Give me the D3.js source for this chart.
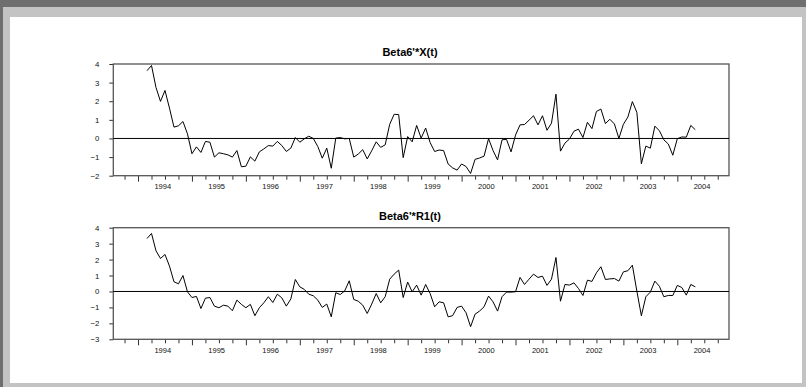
<!DOCTYPE html>
<html>
<head>
<meta charset="utf-8">
<script src="https://cdn.jsdelivr.net/npm/d3@7"></script>
<style>
html,body{margin:0;padding:0;background:#fff;}
svg{display:block;}
text{font-family:"Liberation Sans",Arial,sans-serif;}
</style>
</head>
<body>
<svg id="chart" width="806" height="387"></svg>
<script>
// ---- data ----
// monthly observations, first one is 1994 March (month index 2, counted from Jan 1994 = 0)
const firstMonthIndex = 2;
const titles = ["Beta6'*X(t)", "Beta6'*R1(t)"];
const seriesX = [
 3.64,3.92,2.74,1.99,2.58,1.63,0.61,0.68,0.91,0.25,
 -0.82,-0.45,-0.75,-0.16,-0.20,-1.00,-0.77,-0.82,-0.88,-1.00,
 -0.65,-1.52,-1.49,-0.99,-1.22,-0.72,-0.56,-0.38,-0.41,-0.16,
 -0.38,-0.70,-0.52,0.05,-0.20,-0.02,0.12,0.00,-0.43,-1.06,
 -0.52,-1.60,0.02,0.05,-0.02,0.00,-1.00,-0.84,-0.60,-1.10,
 -0.66,-0.18,-0.48,-0.34,0.76,1.30,1.28,-1.03,0.10,-0.18,
 0.70,0.02,0.56,-0.22,-0.70,-0.62,-0.65,-1.37,-1.58,-1.70,
 -1.37,-1.51,-1.88,-1.12,-1.05,-0.95,-0.01,-0.65,-1.15,-0.07,
 -0.05,-0.72,0.18,0.73,0.75,0.98,1.22,0.73,1.22,0.44,
 0.82,2.38,-0.68,-0.25,-0.03,0.39,0.50,0.05,0.87,0.53,
 1.45,1.58,0.80,1.03,0.78,0.00,0.76,1.15,1.98,1.40,
 -1.36,-0.41,-0.52,0.66,0.42,-0.07,-0.30,-0.90,-0.01,0.08,
 0.07,0.70,0.47
];
const seriesR1 = [
 3.32,3.64,2.55,2.07,2.32,1.59,0.61,0.48,1.00,-0.02,
 -0.38,-0.31,-1.07,-0.42,-0.38,-0.92,-1.02,-0.86,-0.92,-1.21,
 -0.54,-0.81,-1.02,-0.81,-1.52,-1.02,-0.71,-0.33,-0.69,-0.17,
 -0.40,-0.92,-0.47,0.75,0.29,0.13,-0.17,-0.27,-0.54,-1.00,
 -0.79,-1.59,-0.08,-0.19,0.04,0.67,-0.50,-0.61,-0.86,-1.38,
 -0.79,-0.13,-0.71,-0.33,0.77,1.09,1.34,-0.38,0.59,-0.02,
 0.40,-0.23,0.44,-0.13,-0.96,-0.65,-0.71,-1.59,-1.52,-1.00,
 -0.92,-1.34,-2.21,-1.42,-1.23,-0.96,-0.29,-0.65,-1.23,-0.33,
 -0.04,-0.04,-0.02,0.88,0.44,0.77,1.09,0.88,0.96,0.38,
 0.77,2.13,-0.61,0.44,0.40,0.54,0.19,-0.25,0.71,0.63,
 1.17,1.55,0.75,0.79,0.81,0.65,1.23,1.30,1.65,0.02,
 -1.52,-0.33,-0.04,0.65,0.33,-0.33,-0.25,-0.25,0.38,0.25,
 -0.23,0.44,0.29
];
const yTicksTop = [4,3,2,1,0,-1,-2];
const yTicksBottom = [4,3,2,1,0,-1,-2,-3];
const yearLabels = [1994,1995,1996,1997,1998,1999,2000,2001,2002,2003,2004];
// axis spans 1993M08 .. 2004M12 (month slots, index relative to Jan 1994)
const axisMonthStart = -5, axisMonthEnd = 132;

// ---- drawing ----
const svg = d3.select("#chart");
svg.append("rect").attr("x",0).attr("y",0).attr("width",806).attr("height",387).attr("fill","#6e6e6e");
svg.append("rect").attr("x",3).attr("y",7).attr("width",803).attr("height",380).attr("fill","#c3c3c3");
svg.append("rect").attr("x",10).attr("y",17).attr("width",792).attr("height",366).attr("fill","#ffffff");

const x = d3.scaleLinear().domain([axisMonthStart, axisMonthEnd]).range([113.3, 729]);

const panels = [
  {title: titles[0], data: seriesX, ticks: yTicksTop, top: 64, bottom: 175.7, titleY: 56, labelY: 188.5},
  {title: titles[1], data: seriesR1, ticks: yTicksBottom, top: 227.7, bottom: 339.3, titleY: 220, labelY: 352.5}
];

panels.forEach(p => {
  const yMax = d3.max(p.ticks), yMin = d3.min(p.ticks);
  const y = d3.scaleLinear().domain([yMin, yMax]).range([p.bottom, p.top]);
  const g = svg.append("g");

  // title
  g.append("text").attr("x", 410).attr("y", p.titleY).attr("text-anchor","middle")
    .attr("font-size", 11).attr("font-weight","bold").attr("fill","#000").text(p.title);

  // y axis ticks + labels
  const yAxis = d3.axisLeft(y).tickValues(p.ticks).tickSize(4).tickPadding(10).tickFormat(d3.format("d"));
  const ya = g.append("g").attr("transform", `translate(${x.range()[0]},0)`).call(yAxis);
  ya.select(".domain").remove();
  ya.selectAll(".tick line").attr("stroke","#333").attr("stroke-width",1);
  ya.selectAll(".tick text").attr("font-size", 7.8).attr("fill","#111")
    .attr("font-family","Liberation Sans, Arial, sans-serif");

  // x axis ticks: quarterly at slot centres, longer at January
  const quarterMonths = d3.range(-3, 132, 3).filter(m => m >= axisMonthStart && m < axisMonthEnd);
  const xAxisMinor = d3.axisBottom(x).tickValues(quarterMonths.filter(m => ((m % 12)+12)%12 !== 0).map(m => m+0.5))
     .tickSize(4).tickFormat("");
  const xAxisMajor = d3.axisBottom(x).tickValues(quarterMonths.filter(m => ((m % 12)+12)%12 === 0).map(m => m+0.5))
     .tickSize(6).tickFormat("");
  [xAxisMinor, xAxisMajor].forEach(ax => {
    const xa = g.append("g").attr("transform", `translate(0,${p.bottom})`).call(ax);
    xa.select(".domain").remove();
    xa.selectAll(".tick line").attr("stroke","#333");
  });
  // year labels centred on each year
  g.selectAll(".yl").data(yearLabels).enter().append("text")
    .attr("x", d => x((d-1994)*12 + 6)).attr("y", p.labelY)
    .attr("text-anchor","middle").attr("font-size", 7.5).attr("fill","#111").text(d => d);

  // frame
  g.append("rect").attr("x", x.range()[0]).attr("y", p.top)
    .attr("width", x.range()[1]-x.range()[0]).attr("height", p.bottom-p.top)
    .attr("fill","none").attr("stroke","#555").attr("stroke-width",1.3);

  // zero line
  g.append("line").attr("x1", x.range()[0]).attr("x2", x.range()[1])
    .attr("y1", y(0)).attr("y2", y(0)).attr("stroke","#000").attr("stroke-width",1);

  // series
  const line = d3.line().x((d,i) => x(firstMonthIndex + i + 0.5)).y(d => y(d));
  g.append("path").datum(p.data).attr("d", line).attr("fill","none")
    .attr("stroke","#000").attr("stroke-width",1).attr("stroke-linejoin","miter");
});
</script>
</body>
</html>
